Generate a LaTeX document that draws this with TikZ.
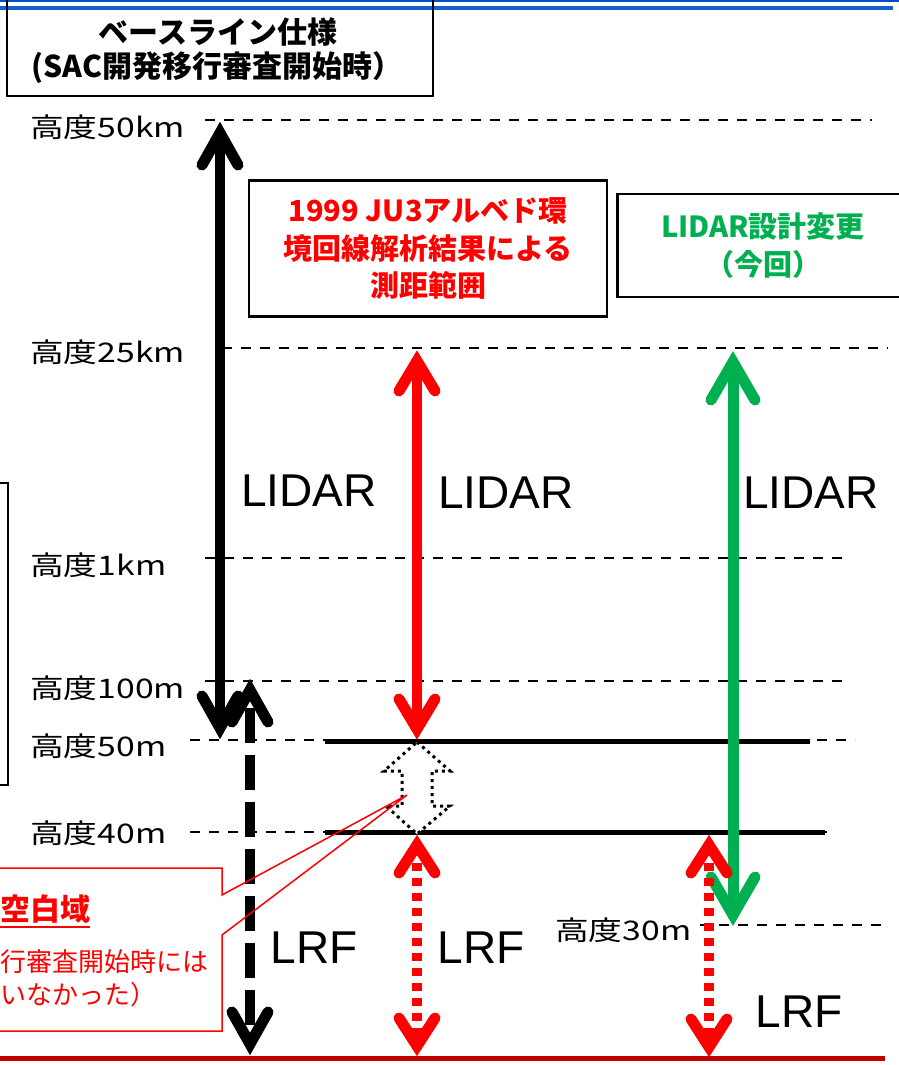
\documentclass[tikz,border=0pt]{standalone}
\usepackage{fontspec}
\newfontfamily\jp{Noto Sans CJK JP}
\newfontfamily\ar{Liberation Sans}
\usetikzlibrary{calc}
\definecolor{myred}{RGB}{255,0,0}
\definecolor{mygreen}{RGB}{0,176,80}
\definecolor{dkred}{RGB}{192,0,0}
\definecolor{myblue}{RGB}{0,80,196}
\definecolor{myblue2}{RGB}{20,96,208}
\newcommand\chevU[4]{\draw[arrowhd,#4] ($(#1)+(-#2,#3)$) -- ($(#1)+(0,12)$) -- ($(#1)+(#2,#3)$);}
\newcommand\chevD[4]{\draw[arrowhd,#4] ($(#1)+(-#2,-#3)$) -- ($(#1)+(0,-12)$) -- ($(#1)+(#2,-#3)$);}
\begin{document}
\begin{tikzpicture}[x=1pt,y=-1pt,
  lvl/.style={dash pattern=on 10pt off 9pt, line width=2pt},
  altlab/.style={font={\jp\fontsize{27}{30}\selectfont}, anchor=west, inner sep=0pt},
  hdr/.style={font={\jp\bfseries\fontsize{30}{34}\selectfont}, inner sep=0pt},
  boxtxt/.style={font={\jp\bfseries\fontsize{29}{37.5}\selectfont}, align=center, draw=black, line width=2.5pt},
  big/.style={font={\ar\fontsize{46}{50}\selectfont}, inner sep=0pt},
  callt/.style={font={\jp\fontsize{26}{30}\selectfont}, text=myred, inner sep=0pt, anchor=west},
  arrowhd/.style={line width=11pt, line cap=round, line join=miter},
  shaft/.style={line width=10.5pt, shorten <=20pt, shorten >=20pt},
  dotshaft/.style={line width=10pt, dash pattern=on 8pt off 7pt, shorten <=30pt, shorten >=22pt},
  dashshaft/.style={line width=10.5pt, dash pattern=on 35pt off 12pt, shorten <=30pt, shorten >=22pt}
]
\useasboundingbox (0,0) rectangle (899,1065);

% top blue lines
\draw[myblue, line width=2pt] (0,0.8) -- (899,0.8);
\draw[myblue2, line width=4pt] (0,8) -- (893,8);

% header box
\draw[line width=2.2pt] (7,-5) -- (7,96) -- (433,96) -- (433,-5);
\node[hdr] (h1) at (218,32) {ベースライン仕様};
\node[hdr] (h2) at (217,68) {(SAC開発移行審査開始時）};

% level lines
\coordinate (k50a) at (205,120); \coordinate (k50b) at (872,120);
\coordinate (k25a) at (222,348); \coordinate (k25b) at (888,348);
\coordinate (k1a) at (205,558);  \coordinate (k1b) at (850,558);
\coordinate (m100a) at (205,681); \coordinate (m100b) at (850,681);
\coordinate (m50a) at (190,740); \coordinate (m50b) at (855,740);
\coordinate (m40a) at (190,832); \coordinate (m40b) at (835,832);
\coordinate (m30a) at (700,925); \coordinate (m30b) at (885,925);
\draw[lvl] (k50a) -- (k50b);
\draw[lvl] (k25a) -- (k25b);
\draw[lvl] (k1a) -- (k1b);
\draw[lvl] (m100a) -- (m100b);
\draw[lvl] (m50a) -- (m50b);
\draw[lvl] (m40a) -- (m40b);
\draw[lvl] (m30a) -- (m30b);

% solid lines 50m / 40m
\coordinate (s50a) at (325,741); \coordinate (s50b) at (810,741);
\coordinate (s40a) at (325,832); \coordinate (s40b) at (825,832);
\draw[line width=5pt] (s50a) -- (s50b);
\draw[line width=5pt] (s40a) -- (s40b);

% altitude labels
\node[altlab] (a50k) at (30,127) {\scalebox{1.25}[1]{高度50km}};
\node[altlab] (a25k) at (30,352) {\scalebox{1.25}[1]{高度25km}};
\node[altlab] (a1k) at (30,565) {\scalebox{1.25}[1]{高度1km}};
\node[altlab] (a100) at (30,688) {\scalebox{1.25}[1]{高度100m}};
\node[altlab] (a50) at (30,746) {\scalebox{1.25}[1]{高度50m}};
\node[altlab] (a40) at (30,833) {\scalebox{1.25}[1]{高度40m}};
\node[altlab] (a30) at (555,930) {\scalebox{1.25}[1]{高度30m}};

% boxes
\node[boxtxt, text=myred, minimum width=358pt, minimum height=136pt] (rbox) at (428,248.5)
  {1999 JU3アルベド環\\境回線解析結果による\\測距範囲};
\node[boxtxt, text=mygreen, minimum width=284pt, minimum height=103pt, text width=284pt] (gbox) at (763,245.5)
  {LIDAR設計変更\\（今回）};

% left box
\draw[line width=1.3pt] (-5,483) -- (8,483) -- (8,785) -- (-5,785);

% bottom line
\coordinate (g0) at (0,1058); \coordinate (g1) at (885,1058);
\draw[dkred, line width=5pt] (g0) -- (g1);

% arrow end points
\coordinate (bT) at (220,121); \coordinate (bB) at (220,740);
\coordinate (dT) at (250,678); \coordinate (dB) at (250,1056);
\coordinate (r1T) at (417,349); \coordinate (r1B) at (417,741);
\coordinate (r2T) at (417,833); \coordinate (r2B) at (417,1058);
\coordinate (gT) at (733,350); \coordinate (gB) at (733,927);
\coordinate (r3T) at (709,833); \coordinate (r3B) at (709,1059);

% black LIDAR arrow
\draw[shaft] (bT) -- (bB);
\chevU{bT}{18}{44}{black}
\chevD{bB}{18}{44}{black}
% black dashed LRF arrow
\draw[dashshaft] (dT) -- (dB);
\chevU{dT}{18}{44}{black}
\chevD{dB}{18}{44}{black}
% red LIDAR arrow
\draw[shaft, myred] (r1T) -- (r1B);
\chevU{r1T}{18}{42}{myred}
\chevD{r1B}{18}{42}{myred}
% red dotted LRF arrow
\draw[dotshaft, myred] (r2T) -- (r2B);
\chevU{r2T}{18}{40}{myred}
\chevD{r2B}{18}{40}{myred}
% green LIDAR arrow
\draw[shaft, mygreen, line width=11pt] (gT) -- (gB);
\chevU{gT}{22}{50}{mygreen}
\chevD{gB}{22}{50}{mygreen}
% red dotted LRF arrow 2
\draw[dotshaft, myred] (r3T) -- (r3B);
\chevU{r3T}{18}{40}{myred}
\chevD{r3B}{18}{40}{myred}

% dotted hollow double arrow
\coordinate (hT) at (417,742); \coordinate (hB) at (417,834);
\draw[line width=3pt, dash pattern=on 3pt off 4pt, fill=white]
  (hT) -- (450,771) -- (432,771) -- (432,806) -- (450,806) -- (hB)
  -- (386,806) -- (402,806) -- (402,771) -- (384,771) -- cycle;

% callout
\coordinate (cp) at (407,795);
\draw[myred, line width=1.5pt] (-5,868) -- (222,868) -- (222,895) -- (cp) -- (222,935) -- (222,1031) -- (-5,1031);
\node[callt, font={\jp\bfseries\fontsize{30}{34}\selectfont}] (cw1) at (0,909) {空白域};
\draw[myred, line width=2pt] ($(cw1.south west)+(-5,3)$) -- ($(cw1.south east)+(0,3)$);
\node[callt] (cw2) at (0,962) {行審査開始時には};
\node[callt] (cw3) at (0,995) {いなかった）};

% range labels
\node[big] (t1) at (309,491) {LIDAR};
\node[big] (t2) at (506,493) {LIDAR};
\node[big] (t3) at (811,493) {LIDAR};
\node[big] (f1) at (314,948) {LRF};
\node[big] (f2) at (481,948) {LRF};
\node[big] (f3) at (799,1012) {LRF};
\end{tikzpicture}
\end{document}
